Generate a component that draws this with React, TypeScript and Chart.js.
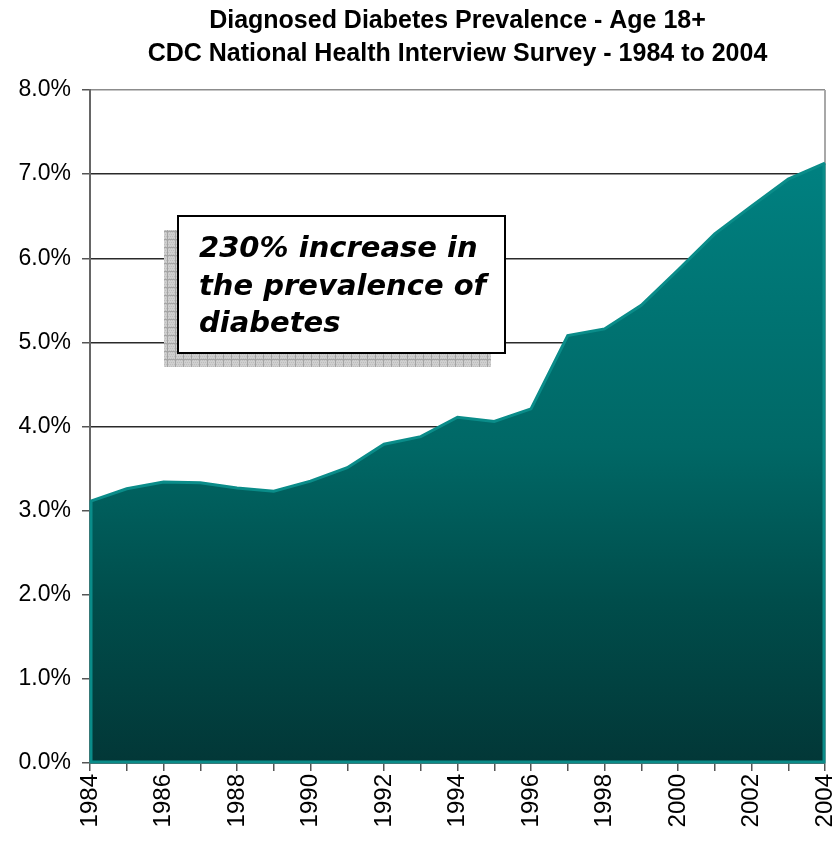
import React, { useEffect, useRef } from "react";
import { Chart, registerables } from "chart.js";

Chart.register(...registerables);

// Survey years and diagnosed diabetes prevalence (% of adults 18+)
const years = [
  "1984", "1985", "1986", "1987", "1988", "1989", "1990", "1991", "1992", "1993", "1994",
  "1995", "1996", "1997", "1998", "1999", "2000", "2001", "2002", "2003", "2004",
];
const prevalence = [
  3.11, 3.26, 3.34, 3.33, 3.27, 3.23, 3.35, 3.51, 3.79, 3.88, 4.11,
  4.06, 4.21, 5.08, 5.16, 5.44, 5.86, 6.29, 6.62, 6.94, 7.13,
];
const titleLines = [
  "Diagnosed Diabetes Prevalence - Age 18+",
  "CDC National Health Interview Survey - 1984 to 2004",
];
const calloutLines = ["230% increase in", "the prevalence of", "diabetes"];

const SANS = "'Liberation Sans', Arial, Helvetica, sans-serif";

function makeShadowPattern(ctx: CanvasRenderingContext2D) {
  const c = document.createElement("canvas");
  c.width = 8;
  c.height = 8;
  const p = c.getContext("2d")!;
  p.fillStyle = "#cfcfcf";
  p.fillRect(0, 0, 8, 8);
  p.fillStyle = "#bdbdbd";
  for (let i = 0; i < 8; i += 2) {
    for (let j = (i / 2) % 2; j < 8; j += 2) p.fillRect(j, i, 1, 1);
  }
  p.fillStyle = "#a4a4a4";
  p.fillRect(0, 7, 8, 1);
  p.fillRect(7, 0, 1, 8);
  return ctx.createPattern(c, "repeat");
}

const decorPlugin = {
  id: "decor",
  beforeDatasetsDraw(chart: any) {
    const { ctx, chartArea: a } = chart;
    // right edge of the plot frame
    ctx.save();
    ctx.strokeStyle = "#a8a8a8";
    ctx.lineWidth = 2;
    ctx.beginPath();
    ctx.moveTo(a.right, a.top);
    ctx.lineTo(a.right, a.bottom);
    ctx.stroke();
    ctx.restore();
  },
  afterDatasetsDraw(chart: any) {
    const { ctx } = chart;
    const meta = chart.getDatasetMeta(0);
    const pts = meta.data;
    const y0 = chart.scales.y.getPixelForValue(0);
    // close the area outline along the baseline and the two ends
    ctx.save();
    ctx.strokeStyle = "#0a8c89";
    ctx.lineWidth = 3;
    ctx.beginPath();
    ctx.moveTo(pts[pts.length - 1].x - 1, pts[pts.length - 1].y);
    ctx.lineTo(pts[pts.length - 1].x - 1, y0 - 1);
    ctx.lineTo(pts[0].x + 1, y0 - 1);
    ctx.lineTo(pts[0].x + 1, pts[0].y);
    ctx.stroke();
    ctx.restore();
  },
  afterDraw(chart: any) {
    const { ctx, chartArea: a } = chart;
    ctx.save();
    // title, centred over the plot area
    ctx.fillStyle = "#000";
    ctx.font = `bold 25px ${SANS}`;
    ctx.textAlign = "center";
    ctx.textBaseline = "alphabetic";
    const cx = (a.left + a.right) / 2;
    ctx.fillText(titleLines[0], cx, 28);
    ctx.fillText(titleLines[1], cx, 61);

    // callout box with a hatched drop shadow
    const bx = a.left + 88;
    const by = a.top + 126;
    const bw = 327;
    const bh = 137;
    ctx.fillStyle = makeShadowPattern(ctx) as any;
    ctx.fillRect(bx - 14, by + 14, bw, bh);
    ctx.fillStyle = "#fff";
    ctx.fillRect(bx, by, bw, bh);
    ctx.strokeStyle = "#000";
    ctx.lineWidth = 2;
    ctx.strokeRect(bx, by, bw, bh);

    ctx.fillStyle = "#000";
    ctx.textAlign = "left";
    ctx.font = `italic bold 29px 'DejaVu Sans', Verdana, sans-serif`;
    calloutLines.forEach((t, i) => ctx.fillText(t, bx + 21, by + 41 + i * 37.5));
    ctx.restore();
  },
};

export default function App() {
  const ref = useRef<HTMLCanvasElement | null>(null);

  useEffect(() => {
    document.body.style.margin = "0";
    const canvas = ref.current!;
    const chart = new Chart(canvas, {
      type: "line",
      data: {
        labels: years,
        datasets: [
          {
            data: prevalence,
            fill: "origin",
            borderColor: "#0a8c89",
            borderWidth: 3,
            pointRadius: 0,
            tension: 0,
            backgroundColor: (c: any) => {
              const area = c.chart.chartArea;
              if (!area) return "#006a68";
              const g = c.chart.ctx.createLinearGradient(0, area.top, 0, area.bottom);
              g.addColorStop(0, "#008686");
              g.addColorStop(0.12, "#008080");
              g.addColorStop(0.53, "#006866");
              g.addColorStop(0.76, "#004d4b");
              g.addColorStop(1, "#023737");
              return g;
            },
          },
        ],
      },
      options: {
        responsive: false,
        animation: false,
        layout: { padding: { top: 90, right: 10, left: 0, bottom: 0 } },
        plugins: {
          legend: { display: false },
          title: { display: false },
          tooltip: { enabled: false },
        },
        scales: {
          x: {
            type: "category",
            offset: false,
            grid: { drawOnChartArea: false, tickLength: 8, color: "#555", lineWidth: 1.5 },
            border: { color: "#666", width: 2 },
            ticks: {
              autoSkip: false,
              minRotation: 90,
              maxRotation: 90,
              padding: 3,
              color: "#000",
              font: { family: SANS, size: 24 },
              callback: function (this: any, v: any, i: number) {
                return i % 2 === 0 ? this.getLabelForValue(v) : "";
              },
            },
            afterFit: (s: any) => {
              s.height = 80;
              s.paddingLeft = 0;
              s.paddingRight = 0;
            },
          },
          y: {
            min: 0,
            max: 8,
            grid: {
              tickLength: 8,
              color: (c: any) => (c.tick && c.tick.value === 8 ? "#8c8c8c" : "#2a2a2a"),
              tickColor: "#555",
              lineWidth: 1.5,
            },
            border: { color: "#666", width: 2 },
            ticks: {
              stepSize: 1,
              padding: 11,
              color: "#000",
              font: { family: SANS, size: 23 },
              callback: (v: any) => Number(v).toFixed(1) + "%",
            },
            afterFit: (s: any) => {
              s.width = 90;
              s.paddingTop = 0;
              s.paddingBottom = 0;
            },
          },
        },
      },
      plugins: [decorPlugin],
    });
    return () => chart.destroy();
  }, []);

  return <canvas ref={ref} width={835} height={843} style={{ display: "block" }} />;
}
